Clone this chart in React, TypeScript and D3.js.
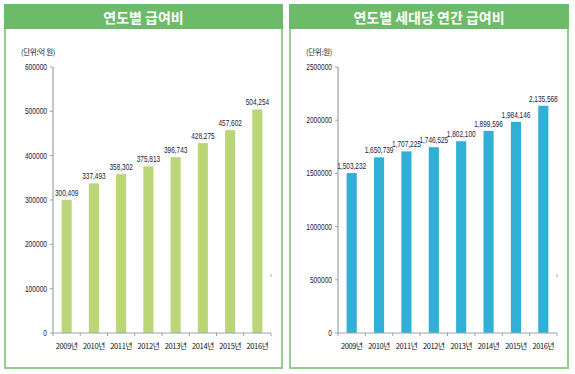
import React from 'react';
import * as d3 from 'd3';

const years = ['2009년', '2010년', '2011년', '2012년', '2013년', '2014년', '2015년', '2016년'];
const benefitTotal = [300409, 337493, 358302, 375813, 396743, 428275, 457602, 504254];
const benefitPerHousehold = [1503232, 1650739, 1707225, 1746525, 1802100, 1899596, 1984146, 2135568];
const totalTicks = [0, 100000, 200000, 300000, 400000, 500000, 600000];
const householdTicks = [0, 500000, 1000000, 1500000, 2000000, 2500000];

const W = 575;
const H = 374;
const numFont = "'Liberation Sans', Arial, sans-serif";
const krFont = "'Noto Sans CJK KR', 'Noto Sans', sans-serif";

// condensed text: the chart uses a narrow face, so squeeze horizontally
const Narrow: React.FC<{ x: number; y: number; anchor: string; size: number; sx: number; fill: string; children: React.ReactNode }> = (p) => (
    <text transform={`translate(${p.x},${p.y}) scale(${p.sx},1)`} textAnchor={p.anchor}
        fontFamily={numFont} fontSize={p.size} fill={p.fill}>{p.children}</text>
);

interface PanelProps {
    x0: number;
    x1: number;
    title: string;
    unit: string;
    values: number[];
    ticks: number[];
    max: number;
    color: string;
}

const Panel: React.FC<PanelProps> = (props) => {
    const top = 5, bottom = 368;
    const axisLeft = props.x0 + 48;
    const axisRight = props.x1 - 11;

    const xScale = d3.scaleBand<string>()
        .domain(years)
        .range([axisLeft, axisRight])
        .paddingInner(0.63)
        .paddingOuter(0.315);

    const yScale = d3.scaleLinear()
        .domain([0, props.max])
        .range([333, 67]);

    const fmt = d3.format(',');
    // band boundaries for the x tick marks
    const step = xScale.step();
    const boundaries = d3.range(years.length + 1).map(i => axisLeft + i * step);

    return (
        <g>
            <rect x={props.x0} y={top} width={props.x1 - props.x0} height={bottom - top}
                fill="#fff" stroke="#92cf88" strokeWidth={2} />
            <rect x={props.x0 - 1} y={top - 1} width={props.x1 - props.x0 + 2} height={25} fill="#6dbb69" />
            <text x={(props.x0 + props.x1) / 2} y={23} textAnchor="middle" fill="#fff"
                fontFamily={krFont} fontSize={14} fontWeight="bold">{props.title}</text>

            <text x={props.x0 + 16} y={55} fontFamily={krFont} fontSize={7.5} fill="#222" letterSpacing={-0.3}>{props.unit}</text>

            {/* y axis */}
            <line x1={axisLeft} x2={axisLeft} y1={yScale(props.max)} y2={yScale(0)} stroke="#9aa3ab" strokeWidth={1.2} />
            {props.ticks.map(t => (
                <g key={t}>
                    <line x1={axisLeft - 3} x2={axisLeft} y1={yScale(t)} y2={yScale(t)} stroke="#9aa3ab" />
                    <Narrow x={axisLeft - 6} y={yScale(t) + 3} anchor="end" size={8.5} sx={0.78} fill="#1a1a3a">{t}</Narrow>
                </g>
            ))}

            {/* bars */}
            {props.values.map((v, i) => (
                <rect key={years[i]} x={xScale(years[i])} y={yScale(v)} width={xScale.bandwidth()}
                    height={yScale(0) - yScale(v)} fill={props.color} />
            ))}

            {/* x axis */}
            <line x1={axisLeft} x2={axisRight} y1={yScale(0)} y2={yScale(0)} stroke="#9aa3ab" strokeWidth={1.2} />
            {boundaries.map((b, i) => (
                <line key={i} x1={b} x2={b} y1={yScale(0)} y2={yScale(0) + 3} stroke="#9aa3ab" />
            ))}
            {years.map(y => (
                <text key={y} x={xScale(y)! + xScale.bandwidth() / 2} y={349} textAnchor="middle"
                    fontFamily={krFont} fontSize={7.5} fill="#111" letterSpacing={-0.4}>{y}</text>
            ))}

            {/* value labels */}
            {props.values.map((v, i) => (
                <Narrow key={'l' + i} x={xScale(years[i])! + xScale.bandwidth() / 2} y={yScale(v) - 4}
                    anchor="middle" size={9} sx={0.72} fill="#1a1a40">{fmt(v)}</Narrow>
            ))}

            <line x1={axisRight} x2={axisRight} y1={274} y2={277} stroke="#aaa" />
        </g>
    );
};

export default function App() {
    return (
        <svg width={W} height={H} style={{ position: 'absolute', left: 0, top: 0, background: '#fff' }}>
            <Panel x0={5} x1={282} title="연도별 급여비" unit="(단위:억 원)"
                values={benefitTotal} ticks={totalTicks} max={600000} color="#bbd677" />
            <Panel x0={290} x1={568} title="연도별 세대당 연간 급여비" unit="(단위:원)"
                values={benefitPerHousehold} ticks={householdTicks} max={2500000} color="#30b0d6" />
        </svg>
    );
}
